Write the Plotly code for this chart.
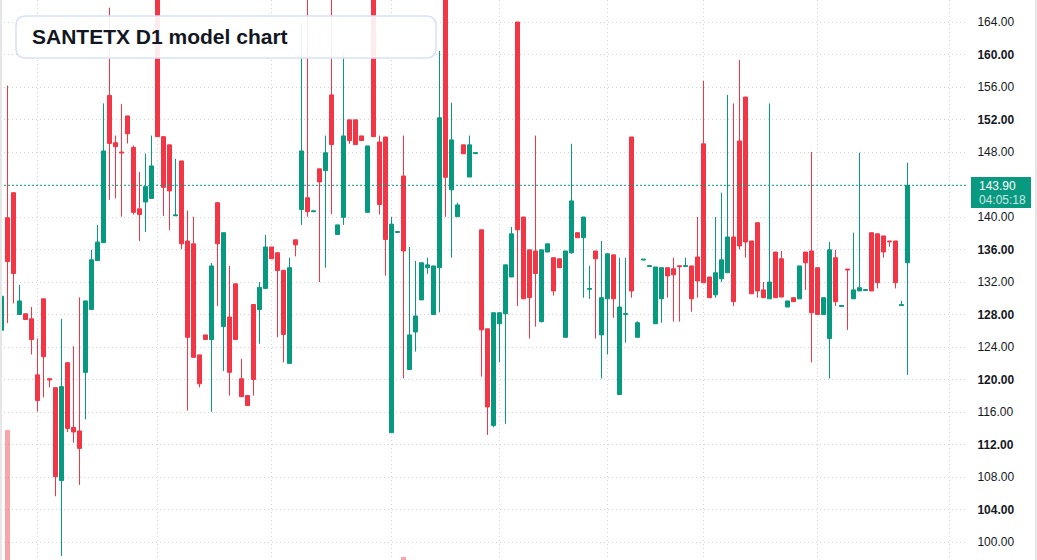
import plotly.graph_objects as go

# ---------------- data ----------------
bar_index = list(range(-1, 151))

opens = [
    126.07, 139.91, 142.99, 128.0, 128.09, 127.47, 120.57, 129.93, 120.1, 118.99,
    107.56, 122.07, 114.11, 113.67, 120.88, 128.62, 134.64, 136.84, 154.95, 149.14,
    148.0, 152.44, 148.57, 141.01, 141.85, 142.29, 167.5, 149.89, 148.88, 140.15,
    146.9, 137.05, 136.7, 123.03, 125.49, 124.92, 141.76, 126.51, 127.69, 131.78,
    120.09, 118.02, 129.23, 128.62, 131.21, 136.31, 135.6, 133.45, 121.98, 137.19,
    140.92, 142.37, 140.65, 145.93, 145.71, 155.03, 137.85, 139.96, 151.96, 151.96,
    149.98, 140.57, 170.0, 149.23, 149.85, 113.45, 138.1, 145.05, 121.23, 125.85,
    129.8, 133.76, 128.0, 133.76, 168.0, 143.34, 140.04, 148.88, 144.92, 147.8,
    138.42, 126.24, 114.33, 126.86, 128.09, 132.62, 164.0, 140.0, 135.96, 135.82,
    127.12, 135.69, 134.99, 134.86, 125.19, 135.6, 138.07, 137.45, 131.1, 135.82,
    125.49, 129.93, 135.34, 118.15, 128.0, 149.85, 125.19, 134.7, 133.9, 126.86,
    129.93, 133.76, 133.63, 134.0, 133.9, 133.98, 135.08, 149.01, 132.62, 130.42,
    132.4, 133.14, 137.54, 149.36, 154.77, 137.05, 139.3, 131.03, 129.93, 135.69,
    134.86, 128.92, 130.07, 129.93, 135.69, 135.82, 133.76, 128.0, 125.05, 134.99,
    129.0, 133.6, 129.93, 130.9, 130.95, 138.07, 137.93, 137.67, 137.05, 137.05,
    129.1, 134.37,
]

highs = [
    130.3, 156.18, 143.0, 131.65, 128.09, 128.92, 125.05, 129.93, 120.1, 118.99,
    127.47, 122.07, 124.09, 130.11, 129.67, 135.96, 139.03, 153.98, 165.76, 150.02,
    153.89, 152.44, 148.8, 145.54, 147.82, 150.02, 167.5, 149.89, 148.88, 147.16,
    146.9, 140.79, 140.04, 123.03, 125.49, 134.33, 141.76, 138.07, 133.98, 131.78,
    122.55, 118.02, 129.23, 132.0, 137.8, 136.31, 135.6, 133.45, 134.99, 137.19,
    163.87, 168.0, 140.75, 145.93, 150.02, 168.0, 139.03, 159.91, 151.96, 151.96,
    149.98, 148.75, 170.0, 150.02, 149.85, 140.0, 138.2, 150.02, 136.31, 134.59,
    134.37, 134.99, 133.98, 160.44, 168.0, 154.07, 141.76, 148.88, 150.02, 147.9,
    138.42, 126.24, 128.22, 128.22, 134.11, 138.77, 164.0, 140.0, 135.96, 150.02,
    135.96, 136.7, 134.99, 134.86, 135.82, 149.01, 138.07, 140.0, 133.98, 135.82,
    137.05, 135.47, 135.34, 134.99, 134.99, 149.85, 127.16, 134.8, 134.0, 133.85,
    133.76, 133.76, 134.99, 134.0, 134.99, 133.98, 140.0, 156.75, 132.62, 140.0,
    142.99, 155.03, 153.98, 159.34, 154.77, 137.05, 139.3, 132.0, 153.98, 135.69,
    135.82, 129.67, 130.07, 133.98, 135.69, 148.0, 133.76, 130.07, 136.92, 135.96,
    129.1, 133.6, 138.07, 147.91, 131.05, 138.07, 137.93, 137.67, 137.05, 137.05,
    129.67, 146.68,
]

lows = [
    126.0, 126.95, 129.36, 128.0, 127.38, 123.08, 116.04, 117.8, 119.03, 105.63,
    98.29, 113.54, 112.22, 107.03, 115.08, 128.62, 134.64, 136.84, 142.11, 142.29,
    140.04, 149.05, 140.31, 137.05, 138.15, 142.29, 149.89, 140.13, 138.37, 140.15,
    136.04, 116.18, 122.73, 119.03, 124.92, 116.04, 129.05, 121.05, 118.02, 124.92,
    117.89, 116.79, 118.02, 124.4, 131.21, 134.86, 125.19, 122.11, 121.98, 135.16,
    139.03, 140.04, 140.65, 132.0, 133.76, 140.35, 137.85, 139.03, 149.01, 148.92,
    149.41, 140.57, 149.89, 140.31, 132.79, 113.45, 138.1, 120.13, 121.23, 123.43,
    129.8, 133.01, 128.0, 128.26, 140.04, 134.99, 140.04, 147.78, 144.92, 147.8,
    120.35, 113.19, 114.11, 122.11, 114.55, 132.62, 129.05, 129.93, 125.05, 126.51,
    127.03, 135.69, 130.33, 133.76, 125.19, 135.47, 137.45, 130.07, 129.93, 125.05,
    120.13, 123.08, 127.6, 118.15, 124.53, 130.07, 125.19, 134.7, 133.9, 126.86,
    126.99, 130.07, 127.12, 127.12, 133.9, 128.35, 130.07, 131.91, 130.07, 130.07,
    132.0, 133.14, 129.05, 136.0, 134.99, 130.55, 130.07, 130.07, 129.93, 130.07,
    130.15, 128.92, 129.58, 129.93, 131.03, 122.11, 128.0, 128.0, 120.13, 129.05,
    129.0, 126.11, 129.93, 130.9, 130.95, 130.9, 131.21, 134.99, 136.35, 131.21,
    129.1, 120.57,
]

closes = [
    130.24, 134.51, 133.05, 129.67, 127.38, 124.92, 117.41, 122.81, 119.95, 108.04,
    119.12, 113.98, 113.54, 111.52, 129.67, 134.73, 136.92, 148.13, 149.05, 148.66,
    147.9, 150.24, 140.57, 140.31, 143.74, 146.29, 149.89, 143.65, 143.21, 140.25,
    136.7, 125.19, 122.73, 119.47, 124.92, 133.98, 136.7, 138.07, 120.88, 124.92,
    117.89, 116.79, 120.0, 131.34, 136.31, 134.86, 133.41, 125.54, 133.76, 136.57,
    148.13, 140.66, 140.75, 144.31, 147.91, 148.92, 139.03, 149.98, 149.41, 148.92,
    149.41, 148.75, 149.89, 141.54, 137.23, 139.12, 138.2, 135.82, 125.49, 127.82,
    134.37, 134.11, 133.98, 152.22, 144.88, 149.49, 141.49, 147.78, 148.88, 147.9,
    126.11, 116.62, 128.22, 128.22, 134.11, 137.93, 138.42, 129.93, 130.07, 133.05,
    135.96, 136.7, 130.9, 133.76, 135.82, 141.98, 137.45, 140.0, 131.2, 134.86,
    130.07, 135.47, 129.93, 128.92, 128.1, 130.9, 126.99, 134.8, 134.0, 133.85,
    133.76, 132.75, 132.88, 133.9, 134.0, 129.93, 132.13, 131.91, 130.07, 133.14,
    134.73, 137.54, 129.58, 136.44, 136.92, 130.55, 130.9, 130.07, 132.0, 130.07,
    130.15, 129.67, 129.58, 133.98, 134.37, 128.22, 128.0, 130.07, 135.96, 129.58,
    129.1, 133.5, 131.03, 131.3, 131.05, 130.9, 131.91, 135.69, 136.96, 131.91,
    129.2, 143.9,
]

volumes = [
    0, 130, 0, 0, 0, 0, 0, 0, 0, 0,
    0, 0, 0, 0, 0, 0, 0, 0, 0, 0,
    0, 0, 0, 0, 0, 0, 0, 0, 0, 0,
    0, 0, 0, 0, 0, 0, 0, 0, 0, 0,
    0, 0, 0, 0, 0, 0, 0, 0, 0, 0,
    0, 0, 0, 0, 0, 0, 0, 0, 0, 0,
    0, 0, 0, 0, 0, 0, 0, 3, 0, 0,
    0, 0, 0, 0, 0, 0, 0, 0, 0, 0,
    0, 0, 0, 0, 0, 0, 0, 0, 0, 0,
    0, 0, 0, 0, 0, 0, 0, 0, 0, 0,
    0, 0, 0, 0, 0, 0, 0, 0, 0, 0,
    0, 0, 0, 0, 0, 0, 0, 0, 0, 0,
    0, 0, 0, 0, 0, 0, 0, 0, 0, 0,
    0, 0, 0, 0, 0, 0, 0, 0, 0, 0,
    0, 0, 0, 0, 0, 0, 0, 0, 0, 0,
    0, 0,
]

price_ticks = [100, 104, 108, 112, 116, 120, 124, 128, 132, 136, 140, 148, 152, 156, 160, 164]
month_lines = [5, 25, 44, 64, 82, 100, 116, 135, 157]
title_text = "SANTETX D1 model chart"
countdown_text = "04:05:18"

# ---------------- style ----------------
UP = "#089981"
DOWN = "#F23645"
TEXT = "#131722"
GRID = "rgba(200,203,212,0.85)"
FONT = "Liberation Sans, Arial, sans-serif"

W, H = 1037, 560
R_MARGIN = 69
PW = W - R_MARGIN  # plot width in px


def px_x(p):
    return p / PW


def px_y(p):
    return 1 - p / H


vol_colors = ["rgba(242,54,69,0.45)" if c < o else "rgba(8,153,129,0.45)" for o, c in zip(opens, closes)]

fig = go.Figure()

fig.add_trace(go.Bar(
    x=bar_index, y=volumes, yaxis="y2", width=0.83,
    marker=dict(color=vol_colors, line=dict(width=0)),
    hoverinfo="skip", showlegend=False,
))

fig.add_trace(go.Candlestick(
    x=bar_index, open=opens, high=highs, low=lows, close=closes,
    increasing=dict(line=dict(color=UP, width=1), fillcolor=UP),
    decreasing=dict(line=dict(color=DOWN, width=1), fillcolor=DOWN),
    whiskerwidth=0, showlegend=False,
))

tick_text = [("<b>%.2f</b>" % v) if v % 8 == 0 else ("%.2f" % v) for v in price_ticks]

# rounded title box path (pixel geometry -> paper coords)
bx0, bx1, by0, by1, r = 16, 436, 16, 58, 10
path = (
    f"M {px_x(bx0 + r)},{px_y(by0)} L {px_x(bx1 - r)},{px_y(by0)} "
    f"Q {px_x(bx1)},{px_y(by0)} {px_x(bx1)},{px_y(by0 + r)} "
    f"L {px_x(bx1)},{px_y(by1 - r)} Q {px_x(bx1)},{px_y(by1)} {px_x(bx1 - r)},{px_y(by1)} "
    f"L {px_x(bx0 + r)},{px_y(by1)} Q {px_x(bx0)},{px_y(by1)} {px_x(bx0)},{px_y(by1 - r)} "
    f"L {px_x(bx0)},{px_y(by0 + r)} Q {px_x(bx0)},{px_y(by0)} {px_x(bx0 + r)},{px_y(by0)} Z"
)

last_close = closes[-1]

fig.update_layout(
    width=W, height=H,
    margin=dict(l=0, r=R_MARGIN, t=0, b=0),
    paper_bgcolor="white", plot_bgcolor="white",
    font=dict(family=FONT, size=12, color=TEXT),
    boxgap=0.333, boxgroupgap=0,
    bargap=0,
    showlegend=False,
    xaxis=dict(
        range=[-1.25, 160.083], rangeslider=dict(visible=False),
        tickvals=month_lines, showticklabels=False, ticks="",
        showgrid=True, gridcolor=GRID, griddash="1px,3px", gridwidth=1,
        zeroline=False, showline=False, fixedrange=True,
    ),
    yaxis=dict(
        side="right", range=[97.785, 166.708],
        tickvals=price_ticks, ticktext=tick_text,
        ticks="outside", ticklen=6, tickcolor="rgba(0,0,0,0)",
        tickfont=dict(family=FONT, size=12, color=TEXT),
        showgrid=True, gridcolor=GRID, griddash="1px,3px", gridwidth=1,
        zeroline=False, showline=False,
    ),
    yaxis2=dict(
        overlaying="y", range=[0, 560], visible=False, showgrid=False,
    ),
    shapes=[
        dict(type="line", xref="paper", x0=0, x1=1, yref="y", y0=last_close, y1=last_close,
             line=dict(color=UP, width=1, dash="2px,2px"), layer="above"),
        dict(type="path", xref="paper", yref="paper", path=path,
             fillcolor="rgba(255,255,255,0.9)", line=dict(color="#d5e2f6", width=1.5), layer="above"),
        dict(type="rect", xref="paper", yref="paper",
             x0=px_x(971), x1=px_x(1031), y0=px_y(208), y1=px_y(177),
             fillcolor=UP, line=dict(width=0), layer="above"),
        dict(type="rect", xref="paper", yref="paper",
             x0=px_x(0), x1=px_x(2), y0=0, y1=1,
             fillcolor="#e6e6e6", line=dict(width=0), layer="above"),
        dict(type="rect", xref="paper", yref="paper",
             x0=px_x(1035), x1=px_x(1037), y0=0, y1=1,
             fillcolor="#e6e6e6", line=dict(width=0), layer="above"),
    ],
    annotations=[
        dict(xref="paper", yref="paper", x=px_x(30), y=px_y(37), xanchor="left", yanchor="middle",
             text=f"<b>{title_text}</b>", showarrow=False,
             font=dict(family=FONT, size=21, color=TEXT)),
        dict(xref="paper", yref="paper", x=px_x(977), y=px_y(185.5), xanchor="left", yanchor="middle",
             text=f"{last_close:.2f}", showarrow=False,
             font=dict(family=FONT, size=12, color="white")),
        dict(xref="paper", yref="paper", x=px_x(977), y=px_y(200), xanchor="left", yanchor="middle",
             text=countdown_text, showarrow=False,
             font=dict(family=FONT, size=12, color="rgba(255,255,255,0.8)")),
    ],
)

fig.write_html("out.html")
